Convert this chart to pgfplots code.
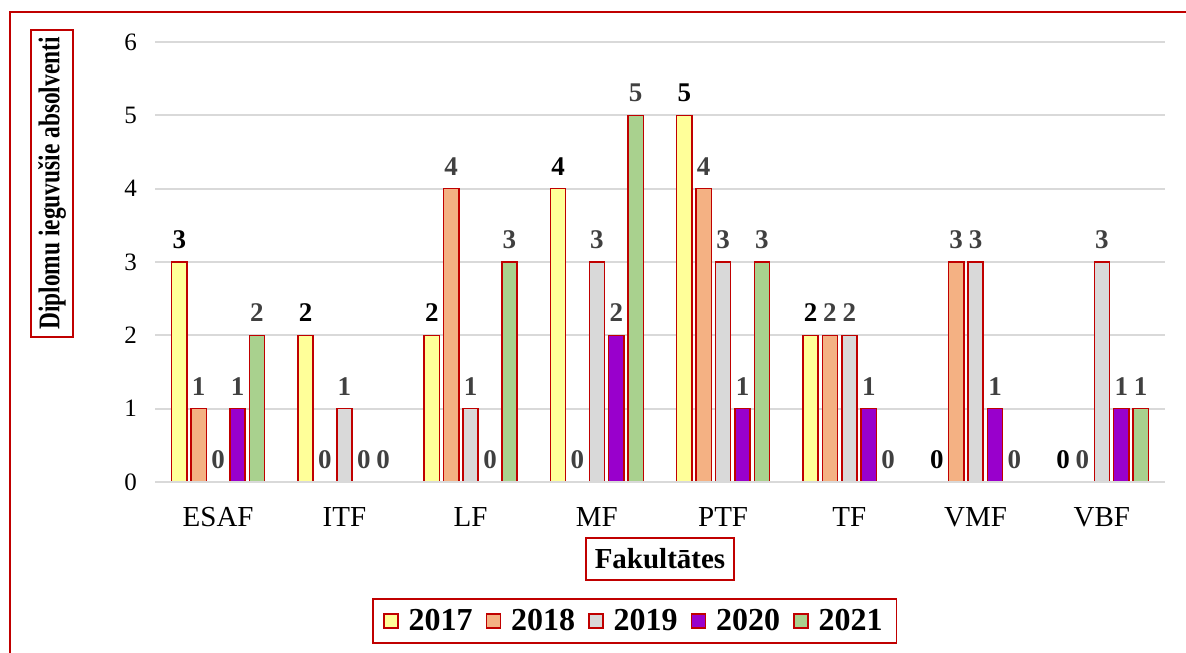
\documentclass[border=0pt]{standalone}
\usepackage{fontspec}
\setmainfont{Liberation Serif}
\usepackage{pgfplots}
\pgfplotsset{compat=1.18}
\usepackage{pgfplotstable}
\definecolor{bord}{HTML}{C00000}
\definecolor{cA}{HTML}{FFFF99}
\definecolor{cB}{HTML}{F4B183}
\definecolor{cC}{HTML}{D9D9D9}
\definecolor{cD}{HTML}{9900CC}
\definecolor{cE}{HTML}{A9D18E}
\definecolor{gridc}{HTML}{D9D9D9}
\definecolor{labg}{HTML}{404040}
\pgfplotstableread{
x y
0 3
1 2
2 2
3 4
4 5
5 2
6 0
7 0
}\tA
\pgfplotstableread{
x y
0 1
1 0
2 4
3 0
4 4
5 2
6 3
7 0
}\tB
\pgfplotstableread{
x y
0 0
1 1
2 1
3 3
4 3
5 2
6 3
7 3
}\tC
\pgfplotstableread{
x y
0 1
1 0
2 0
3 2
4 1
5 1
6 1
7 1
}\tD
\pgfplotstableread{
x y
0 2
1 0
2 3
3 5
4 3
5 0
6 0
7 1
}\tE
\begin{document}
\begin{tikzpicture}
\useasboundingbox (-77.5pt,-85pt) rectangle (515.5pt,241pt);
\begin{axis}[
 scale only axis, width=505pt, height=220pt,
 at={(0,0)}, anchor=south west,
 ybar=2.1pt, bar width=7.6pt,
 xmin=-0.5, xmax=7.5, ymin=0, ymax=6,
 xtick={0,...,7}, xticklabels={ESAF,ITF,LF,MF,PTF,TF,VMF,VBF},
 ytick={0,...,6},
 ymajorgrids, grid style={gridc, line width=1pt},
 axis line style={draw=none}, major tick length=0pt, tick style={draw=none},
 /pgf/number format/assume math mode=true,
 yticklabel style={font=\fontsize{12.5}{14}\selectfont, xshift=-5.5pt},
 xticklabel style={font=\fontsize{14.5}{17}\selectfont, anchor=base, yshift=-22pt},
 nodes near coords,
 every node near coord/.append style={font=\fontsize{13.5}{15}\selectfont\bfseries, text=labg, yshift=3pt},
 clip=false,
 legend columns=5,
 legend style={at={(rel axis cs:0.475,-0.316)}, anchor=center, draw=bord, line width=0.75pt,
   font=\fontsize{16}{19}\selectfont\bfseries, inner xsep=5pt, inner ysep=3pt,
   /tikz/every odd column/.append style={column sep=3pt},
   /tikz/every even column/.append style={column sep=4.5pt}},
 every axis plot post/.append style={legend image code/.code={\draw[#1, line width=0.75pt] (0pt,-3.5pt) rectangle (7pt,3.5pt);}},
]
\addplot[fill=cA, draw=bord, line width=0.75pt, every node near coord/.append style={text=black}] table[x=x,y=y]{\tA};
\addlegendentry{2017}
\addplot[fill=cB, draw=bord, line width=0.75pt] table[x=x,y=y]{\tB};
\addlegendentry{2018}
\addplot[fill=cC, draw=bord, line width=0.75pt] table[x=x,y=y]{\tC};
\addlegendentry{2019}
\addplot[fill=cD, draw=bord, line width=0.75pt] table[x=x,y=y]{\tD};
\addlegendentry{2020}
\addplot[fill=cE, draw=bord, line width=0.75pt] table[x=x,y=y]{\tE};
\addlegendentry{2021}
\draw[gridc, line width=1.2pt] (axis cs:-0.5,0) -- (axis cs:7.5,0);
\end{axis}
\node[draw=bord, line width=0.75pt, rotate=90, minimum width=153.5pt, minimum height=21pt, inner sep=1pt, font=\fontsize{15}{17}\selectfont\bfseries] at (-51.5pt,149.25pt) {\scalebox{0.78}[1]{Diplomu ieguvušie absolventi}};
\node[draw=bord, line width=0.75pt, minimum width=74pt, minimum height=21pt, inner sep=2pt, font=\fontsize{14.5}{16}\selectfont\bfseries] at (252.5pt,-38.5pt) {Fakultātes};
\draw[bord, line width=0.75pt] (-72.5pt,-100pt) -- (-72.5pt,235pt) -- (530pt,235pt);
\end{tikzpicture}
\end{document}
